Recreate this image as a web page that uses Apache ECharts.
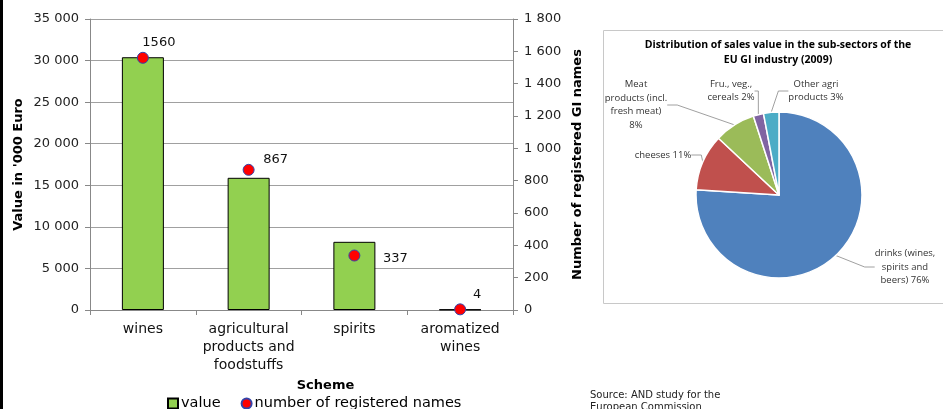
<!DOCTYPE html>
<html><head><meta charset="utf-8">
<script src="https://cdn.jsdelivr.net/npm/echarts@6/dist/echarts.min.js"></script>
<style>html,body{margin:0;padding:0;background:#fff}#c{width:943px;height:409px}</style>
</head><body><div id="c"></div>
<script>
const categories = ['wines', 'agricultural\nproducts and\nfoodstuffs', 'spirits', 'aromatized\nwines'];
const valueData = [30400, 15900, 8200, 60];
const namesData = [1560, 867, 337, 4];
const leftTicks = {min: 0, max: 35000, interval: 5000};
const rightTicks = {min: 0, max: 1800, interval: 200};
const pieNames = ['drinks (wines,\nspirits and\nbeers) 76%', 'cheeses 11%', 'Meat\nproducts (incl.\nfresh meat)\n8%', 'Fru., veg.,\ncereals 2%', 'Other agri\nproducts 3%'];
const pieValues = [76, 11, 8, 2, 3];
const pieTitle = 'Distribution of sales value in the sub-sectors of the\nEU GI industry (2009)';

const FONT = 'DejaVu Sans';
const fmt = v => String(v).replace(/\B(?=(\d{3})+(?!\d))/g, ' ');
const scatterLabelOffsets = [[16, -15], [27, -10], [41, 3], [17, -15]];
const pieLabelPos = [[905, 267, 'center'], [663, 155, 'center'], [636, 105, 'center'], [731, 91, 'center'], [816, 91, 'center']];
const pieColors = ['#4F81BD', '#C0504D', '#9BBB59', '#8064A2', '#4BACC6'];

const chart = echarts.init(document.getElementById('c'));
chart.setOption({
  animation: false,
  textStyle: {fontFamily: FONT},
  grid: {left: 90, right: 430, top: 19, bottom: 99},
  legend: {
    left: 162, top: 391, itemWidth: 10, itemHeight: 10, itemGap: 20,
    textStyle: {fontFamily: FONT, fontSize: 14.5, color: '#000', padding: [0, 0, 0, -2]},
    data: [{name: 'value', icon: 'rect'}, {name: 'number of registered names', icon: 'circle'}]
  },
  xAxis: {
    type: 'category', data: categories,
    name: 'Scheme', nameLocation: 'middle', nameGap: 53,
    nameTextStyle: {fontFamily: FONT, fontWeight: 'bold', fontSize: 13, color: '#000', padding: [0, 0, 0, 48]},
    axisLine: {lineStyle: {color: '#888'}},
    axisTick: {show: true, length: 5, lineStyle: {color: '#888'}},
    axisLabel: {fontFamily: FONT, fontSize: 14, color: '#111', lineHeight: 18, margin: 10, interval: 0}
  },
  yAxis: [{
    type: 'value', min: leftTicks.min, max: leftTicks.max, interval: leftTicks.interval,
    name: "Value in '000 Euro", nameLocation: 'middle', nameGap: 65,
    nameTextStyle: {fontFamily: FONT, fontWeight: 'bold', fontSize: 13, color: '#000'},
    axisLine: {show: true, lineStyle: {color: '#888'}},
    axisTick: {show: true, length: 5, lineStyle: {color: '#888'}},
    axisLabel: {fontFamily: FONT, fontSize: 13, color: '#222', margin: 11, formatter: fmt},
    splitLine: {lineStyle: {color: '#a0a0a0'}}
  }, {
    type: 'value', min: rightTicks.min, max: rightTicks.max, interval: rightTicks.interval,
    name: 'Number of registered GI names', nameLocation: 'middle', nameGap: 58,
    nameTextStyle: {fontFamily: FONT, fontWeight: 'bold', fontSize: 13, color: '#000'},
    axisLine: {show: true, lineStyle: {color: '#888'}},
    axisTick: {show: true, length: 5, lineStyle: {color: '#888'}},
    axisLabel: {fontFamily: FONT, fontSize: 13, color: '#222', margin: 11, formatter: fmt},
    splitLine: {show: false}
  }],
  series: [{
    name: 'value', type: 'bar', data: valueData, barWidth: 42,
    itemStyle: {color: '#92D050', borderColor: '#000', borderWidth: 1}
  }, {
    name: 'number of registered names', type: 'scatter', yAxisIndex: 1,
    symbol: 'circle', symbolSize: 11,
    itemStyle: {color: '#FF0000', borderColor: '#3344aa', borderWidth: 1, opacity: 1},
    data: namesData.map((v, i) => ({
      value: [i, v],
      label: {show: true, position: 'inside', offset: scatterLabelOffsets[i], formatter: String(v),
        fontFamily: FONT, fontSize: 13, color: '#111'}
    }))
  }, {
    name: 'pie', type: 'pie', center: [779, 195], radius: 83,
    startAngle: 90, clockwise: true,
    itemStyle: {borderColor: '#fff', borderWidth: 1.5},
    label: {show: true, fontFamily: 'Open Sans', fontSize: 9.5, color: '#333', lineHeight: 13.5},
    labelLine: {show: true, length: 10, length2: 10, lineStyle: {color: '#888', width: 0.8}},
    labelLayout: p => {
      const pos = pieLabelPos[p.dataIndex];
      return {x: pos[0], y: pos[1], align: pos[2], verticalAlign: 'middle'};
    },
    emphasis: {disabled: true},
    data: pieValues.map((v, i) => ({name: pieNames[i], value: v, itemStyle: {color: pieColors[i]}}))
  }],
  graphic: [
    {type: 'rect', shape: {x: 0, y: 0, width: 3, height: 409}, style: {fill: '#000'}},
    {type: 'rect', shape: {x: 603.5, y: 30.5, width: 345, height: 273}, style: {fill: 'none', stroke: '#c8c8c8', lineWidth: 1}, z: -1},
    {type: 'text', x: 778, y: 38, style: {text: pieTitle, fontFamily: 'Open Sans', fontWeight: 'bold', fontSize: 10.5, lineHeight: 15, fill: '#000', align: 'center'}},
    {type: 'text', x: 590, y: 389, style: {text: 'Source: AND study for the\nEuropean Commission', fontFamily: FONT, fontSize: 10, lineHeight: 12, fill: '#222'}}
  ]
});
</script></body></html>
